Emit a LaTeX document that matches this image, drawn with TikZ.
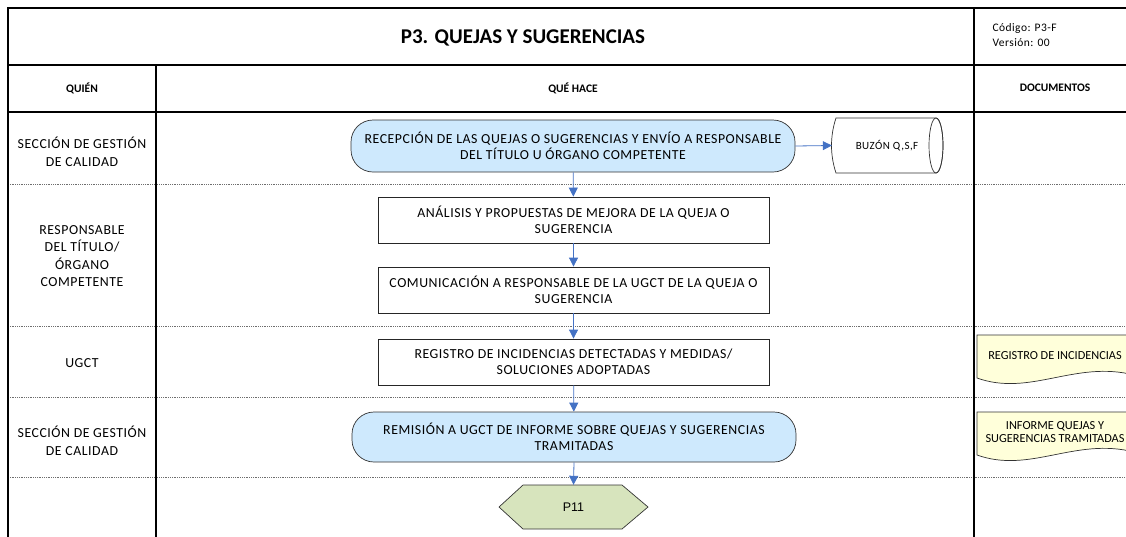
\documentclass[tikz,border=0pt]{standalone}
\usepackage{fontspec}
\setmainfont{Carlito}
\newfontfamily\arialf{Liberation Sans}
\newfontfamily\trackf[LetterSpace=4]{Carlito}
\usetikzlibrary{arrows.meta,calc}
\definecolor{termfill}{RGB}{206,233,253}
\definecolor{hexfill}{RGB}{215,228,189}
\definecolor{docfill}{RGB}{255,255,218}
\definecolor{arrowblue}{RGB}{68,114,196}
\definecolor{lanegrey}{RGB}{110,110,110}
\tikzset{
  frame/.style={line width=2.4pt,black},
  lane/.style={line width=0.8pt,lanegrey,densely dotted},
  term/.style={draw=black!80,line width=0.7pt,fill=termfill,rounded corners=22pt,align=center,
    font=\trackf\fontsize{13.8}{16.5}\selectfont,inner sep=0pt},
  procbox/.style={draw=black!85,line width=0.8pt,fill=white,minimum width=391pt,minimum height=46pt,align=center,
    font=\trackf\fontsize{13.8}{16.5}\selectfont,inner sep=0pt},
  lanelabel/.style={align=center,font=\trackf\fontsize{13.8}{17.5}\selectfont},
  head/.style={font=\bfseries\fontsize{11.5}{13}\selectfont},
  doctext/.style={align=center,font=\fontsize{12.3}{13.5}\selectfont},
  flow/.style={draw=arrowblue,line width=0.8pt,-{Triangle[width=9pt,length=9pt]}},
  shapeline/.style={draw=black!80,line width=0.7pt}
}
\begin{document}
\begin{tikzpicture}[x=1pt,y=-1pt]
\useasboundingbox (0,0) rectangle (1126,536);
% lane separators
\foreach \yy in {184,326,397,477}{\draw[lane] (8,\yy) -- (1126,\yy);}
% table frame
\draw[frame] (8,540) -- (8,8) -- (1130,8);
\draw[frame] (8,65) -- (1130,65);
\draw[frame] (8,112) -- (1130,112);
\draw[frame] (156,65) -- (156,540);
\draw[frame] (974,8) -- (974,540);
% title and header texts
\node[font=\bfseries\fontsize{21}{24}\selectfont] (title) at (523,38) {P3. QUEJAS Y SUGERENCIAS};
\node[anchor=west,align=left,font=\trackf\fontsize{11.5}{15}\selectfont] (codigo) at (989,35) {Código: P3-F\\Versión: 00};
\node[head] (quien) at (82,88) {QUIÉN};
\node[head] (quehace) at (573,88) {QUÉ HACE};
\node[head] (docs) at (1055,88) {DOCUMENTOS};
% lane labels
\node[lanelabel] (l1) at (82,152) {SECCIÓN DE GESTIÓN\\DE CALIDAD};
\node[lanelabel] (l2) at (82,256) {RESPONSABLE\\DEL TÍTULO/\\ÓRGANO\\COMPETENTE};
\node[lanelabel] (l3) at (82,363) {UGCT};
\node[lanelabel] (l4) at (82,441) {SECCIÓN DE GESTIÓN\\DE CALIDAD};
% flow nodes
\node[term,minimum width=444pt,minimum height=52pt] (t1) at (573,146)
  {RECEPCIÓN DE LAS QUEJAS O SUGERENCIAS Y ENVÍO A RESPONSABLE\\DEL TÍTULO U ÓRGANO COMPETENTE};
\node[procbox] (b2) at (573.5,220) {ANÁLISIS Y PROPUESTAS DE MEJORA DE LA QUEJA O\\SUGERENCIA};
\node[procbox] (b3) at (573.5,290) {COMUNICACIÓN A RESPONSABLE DE LA UGCT DE LA QUEJA O\\SUGERENCIA};
\node[procbox] (b4) at (573.5,362) {REGISTRO DE INCIDENCIAS DETECTADAS Y MEDIDAS/\\SOLUCIONES ADOPTADAS};
\node[term,minimum width=444pt,minimum height=50pt] (t5) at (574,437)
  {REMISIÓN A UGCT DE INFORME SOBRE QUEJAS Y SUGERENCIAS\\TRAMITADAS};
% hexagon P11
\draw[shapeline,fill=hexfill] (499,507) -- (523,485) -- (622,485) -- (648,507) -- (622,529) -- (523,529) -- cycle;
\node[minimum width=149pt,minimum height=44pt,font=\arialf\fontsize{12.5}{14}\selectfont] (p11) at (573.5,507) {P11};
% storage cylinder
\draw[shapeline,fill=white] (836,118) -- (936,118) arc[start angle=90,end angle=-90,x radius=7,y radius=-27.5]
  -- (836,173) .. controls (830,155) and (830,136) .. (836,118) -- cycle;
\draw[shapeline] (936,145.5) ellipse[x radius=7,y radius=27.5];
\node[minimum width=110pt,minimum height=55pt,font=\trackf\fontsize{11}{12}\selectfont,inner sep=0pt] (buzon) at (887,145.5) {BUZÓN Q,S,F};
% documents
\draw[shapeline,fill=docfill] (977,335) -- (1134,335) -- (1134,375) .. controls (1075,360) and (1030,397) .. (977,378) -- cycle;
\node[doctext] (d1) at (1055,356) {REGISTRO DE INCIDENCIAS};
\draw[shapeline,fill=docfill] (977,412) -- (1134,412) -- (1134,452) .. controls (1075,437) and (1030,474) .. (977,455) -- cycle;
\node[doctext] (d2) at (1055,432) {INFORME QUEJAS Y\\SUGERENCIAS TRAMITADAS};
% connectors
\draw[flow] (t1) -- (b2);
\draw[flow] (b2) -- (b3);
\draw[flow] (b3) -- (b4);
\draw[flow] (b4) -- (t5);
\draw[flow] (t5.south) -- (p11.north);
\draw[flow] (t1.east) -- (buzon.west);
\end{tikzpicture}
\end{document}
